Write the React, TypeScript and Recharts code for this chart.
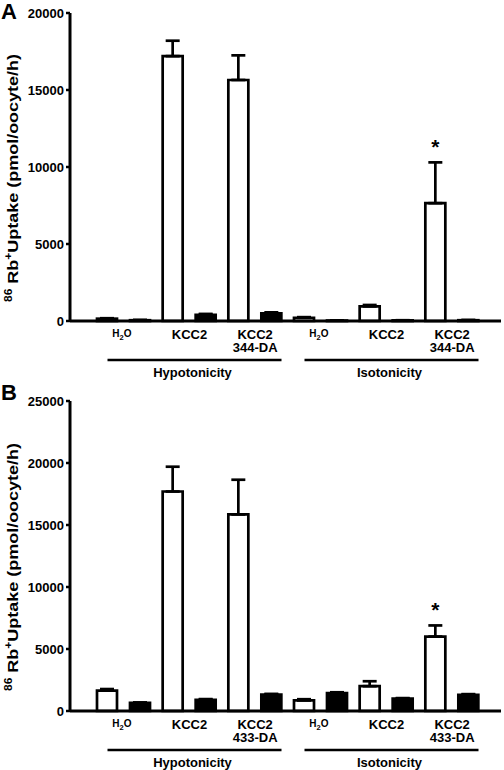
import * as React from "react";
import { BarChart, Bar, XAxis, YAxis, ErrorBar, LabelList } from "recharts";

// x categories (two-line labels split on \n)
const categoriesA = ["H2O", "KCC2", "KCC2\n344-DA", "H2O", "KCC2", "KCC2\n344-DA"];
const categoriesB = ["H2O", "KCC2", "KCC2\n433-DA", "H2O", "KCC2", "KCC2\n433-DA"];
const groups = ["Hypotonicity", "Hypotonicity", "Hypotonicity", "Isotonicity", "Isotonicity", "Isotonicity"];

// panel A
const openA = [150, 17200, 15650, 210, 950, 7650];
const openErrA = [30, 1000, 1600, 40, 90, 2650];
const filledA = [50, 400, 500, 30, 40, 50];
const filledErrA = [20, 60, 60, 10, 10, 15];
const starA = [false, false, false, false, false, true];
const ticksA = [0, 5000, 10000, 15000, 20000];

// panel B
const openB = [1650, 17700, 15850, 850, 2000, 6000];
const openErrB = [120, 2000, 2800, 100, 400, 900];
const filledB = [650, 900, 1320, 1450, 1000, 1300];
const filledErrB = [40, 60, 60, 60, 40, 60];
const starB = [false, false, false, false, false, true];
const ticksB = [0, 5000, 10000, 15000, 20000, 25000];

const FONT = '"Liberation Sans", Arial, Helvetica, sans-serif';

interface Row {
  key: string;
  label: string;
  group: string;
  open: number;
  openErr: number[];
  filled: number;
  filledErr: number[];
  star: boolean;
}

const buildRows = (
  cats: string[],
  open: number[],
  openErr: number[],
  filled: number[],
  filledErr: number[],
  star: boolean[]
): Row[] =>
  cats.map((c, i) => ({
    key: `c${i}`,
    label: c,
    group: groups[i],
    open: open[i],
    openErr: [0, openErr[i]],
    filled: filled[i],
    filledErr: [0, filledErr[i]],
    star: star[i],
  }));

const rowsA = buildRows(categoriesA, openA, openErrA, filledA, filledErrA, starA);
const rowsB = buildRows(categoriesB, openB, openErrB, filledB, filledErrB, starB);

const CatTick = ({ x, y, index, rows }: any) => {
  const label: string = rows[index].label;
  if (label === "H2O") {
    return (
      <text x={x - 2} y={y + 15.5} textAnchor="middle" fontFamily={FONT} fontWeight="bold" fontSize={10} fill="#000">
        <tspan>H</tspan>
        <tspan fontSize={7.5} dy={3}>2</tspan>
        <tspan dy={-3}>O</tspan>
      </text>
    );
  }
  const lines = label.split("\n");
  return (
    <g>
      {lines.map((l, i) => (
        <text key={i} x={x} y={y + 17.5 + i * 13.5} textAnchor="middle" fontFamily={FONT} fontWeight="bold" fontSize={13} fill="#000">
          {l}
        </text>
      ))}
    </g>
  );
};

const GroupTick = ({ x, y, payload }: any) => (
  <g>
    <line x1={x - 82} x2={x + 92} y1={y + 8} y2={y + 8} stroke="#000" strokeWidth={2.5} />
    <text x={x + 3} y={y + 25} textAnchor="middle" fontFamily={FONT} fontWeight="bold" fontSize={13} fill="#000">
      {payload.value}
    </text>
  </g>
);

// the source figure is stretched along the y axis, so the rotated title is too
const YLabel = ({ viewBox }: any) => {
  const cy = viewBox.y + viewBox.height / 2 + 11;
  return (
    <text
      transform={`translate(18,${cy}) rotate(-90) scale(1.2,1)`}
      textAnchor="middle"
      fontFamily={FONT}
      fontWeight="bold"
      fontSize={15}
      fill="#000"
    >
      <tspan fontSize={10} dy={-6}>86</tspan>
      <tspan dy={6}> Rb</tspan>
      <tspan fontSize={10} dy={-6}>+</tspan>
      <tspan dy={6}>Uptake (pmol/oocyte/h)</tspan>
    </text>
  );
};

const renderStar = (rows: Row[]) => (props: any) => {
  const { x, y, width, height, index } = props;
  const row = rows[index];
  if (!row || !row.star) return null;
  const pxPerUnit = Math.abs(height) / row.open;
  const top = y - row.openErr[1] * pxPerUnit;
  return (
    <text x={x + width / 2} y={top - 8} textAnchor="middle" fontFamily={FONT} fontWeight="bold" fontSize={21} fill="#000">
      *
    </text>
  );
};

interface PanelProps {
  rows: Row[];
  ticks: number[];
  height: number;
  top: number;
}

const Panel: React.FC<PanelProps> = ({ rows, ticks, height, top }) => (
  <BarChart
    width={504}
    height={height}
    data={rows}
    margin={{ top, right: 3, left: 0, bottom: 0 }}
    barGap={13}
  >
    <XAxis
      dataKey="key"
      height={31}
      padding={{ left: 21, right: 16 }}
      axisLine={{ stroke: "#000", strokeWidth: 3 }}
      tickLine={false}
      tickSize={0}
      tickMargin={0}
      interval={0}
      tick={<CatTick rows={rows} />}
    />
    <XAxis
      xAxisId="grp"
      dataKey="group"
      allowDuplicatedCategory={false}
      height={28}
      padding={{ left: 21, right: 16 }}
      axisLine={false}
      tickLine={false}
      tickSize={0}
      tickMargin={0}
      interval={0}
      tick={<GroupTick />}
    />
    <YAxis
      width={70}
      domain={[0, ticks[ticks.length - 1]]}
      ticks={ticks}
      interval={0}
      axisLine={{ stroke: "#000", strokeWidth: 3 }}
      tickLine={{ stroke: "#000", strokeWidth: 2.5 }}
      tickSize={4}
      tickMargin={2}
      tick={{ fill: "#000", fontFamily: FONT, fontWeight: "bold", fontSize: 13 }}
      label={<YLabel />}
    />
    <Bar dataKey="open" barSize={20} fill="#fff" stroke="#000" strokeWidth={2.7} isAnimationActive={false}>
      <ErrorBar dataKey="openErr" width={7} stroke="#000" strokeWidth={2.7} direction="y" />
      <LabelList dataKey="open" content={renderStar(rows)} />
    </Bar>
    <Bar dataKey="filled" barSize={20} fill="#000" stroke="#000" strokeWidth={2.7} isAnimationActive={false}>
      <ErrorBar dataKey="filledErr" width={7} stroke="#000" strokeWidth={2.7} direction="y" />
    </Bar>
  </BarChart>
);

const letterStyle: React.CSSProperties = {
  position: "absolute",
  left: 1,
  fontFamily: FONT,
  fontWeight: "bold",
  fontSize: 22,
  lineHeight: "24px",
  color: "#000",
};

export default function App() {
  return (
    <div style={{ position: "absolute", left: 0, top: 0, width: 504, height: 770, background: "#fff" }}>
      <div style={{ position: "absolute", left: 0, top: 0 }}>
        <Panel rows={rowsA} ticks={ticksA} height={380} top={13} />
      </div>
      <div style={{ position: "absolute", left: 0, top: 381 }}>
        <Panel rows={rowsB} ticks={ticksB} height={389} top={20} />
      </div>
      <div style={{ ...letterStyle, top: 0 }}>A</div>
      <div style={{ ...letterStyle, top: 381 }}>B</div>
    </div>
  );
}
